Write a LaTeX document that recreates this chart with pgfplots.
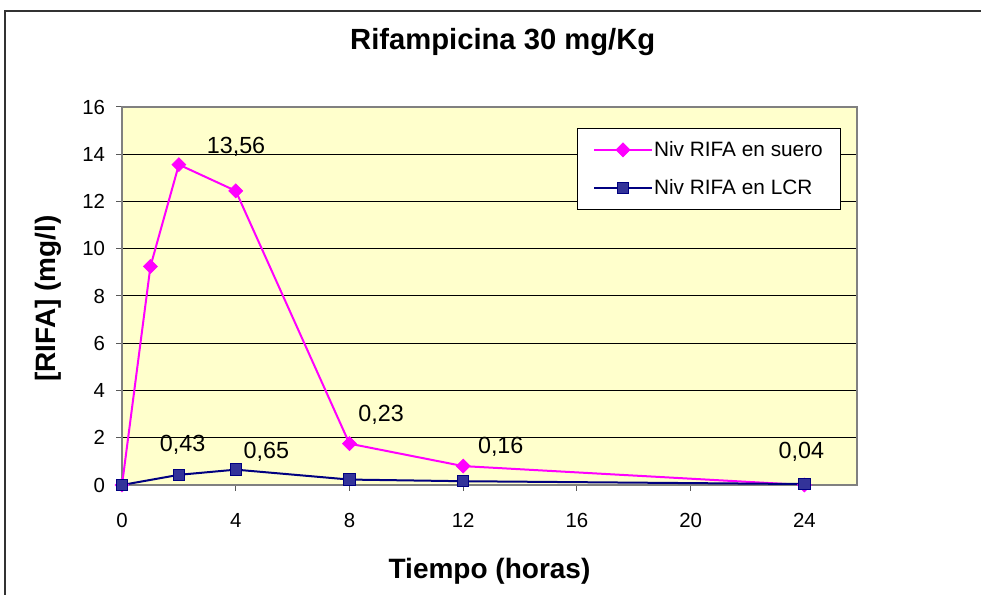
\documentclass[border=0pt]{standalone}
\usepackage{pgfplots}
\pgfplotsset{compat=1.18}
\usepackage{fontspec}
\setmainfont{Liberation Sans}
\definecolor{plotbg}{HTML}{FFFFCC}
\definecolor{serum}{HTML}{FF00FF}
\definecolor{csf}{HTML}{000080}
\definecolor{csffill}{HTML}{333399}
\begin{document}
\begin{tikzpicture}
\path[use as bounding box] (0pt,0pt) rectangle (735.75pt,446.25pt);
\draw[black!80, line width=0.9pt] (3.75pt,0pt) -- (3.75pt,438pt) -- (735.75pt,438pt);
\begin{axis}[
  at={(91.5pt,82.5pt)}, anchor=south west,
  scale only axis, width=551.25pt, height=283.5pt,
  xmin=0, xmax=25.85, ymin=0, ymax=16,
  xtick={0,4,8,12,16,20,24}, ytick={0,2,4,6,8,10,12,14,16},
  xtick pos=bottom, ytick pos=left,
  ymajorgrids, grid style={black, line width=0.75pt},
  axis background/.style={fill=plotbg},
  axis line style={gray, line width=1.5pt},
  tick style={gray!70!black, line width=0.75pt},
  tick align=outside, major tick length=4.5pt,
  /pgf/number format/assume math mode=true,
  tick label style={font=\fontsize{15.3}{18}\selectfont},
  yticklabel style={anchor=east, inner sep=0pt, xshift=-8pt},
  xticklabel style={anchor=north, inner sep=0pt, yshift=-16.5pt},
  title={Rifampicina 30 mg/Kg},
  title style={at={(0.518,1.151)}, anchor=center, font=\bfseries\fontsize{21.9}{26}\selectfont},
  xlabel={Tiempo (horas)},
  xlabel style={at={(0.5,-0.2275)}, anchor=center, font=\bfseries\fontsize{21}{25}\selectfont},
  ylabel={[RIFA] (mg/l)},
  ylabel style={at={(-0.1,0.4934)}, anchor=center, font=\bfseries\fontsize{21}{25}\selectfont},
  legend style={at={(0.619,0.9444)}, anchor=north west, draw=black, line width=0.6pt, fill=white,
    font=\fontsize{15.6}{18}\selectfont, inner xsep=12pt, inner ysep=8.7pt, row sep=13.8pt,
    nodes={inner sep=1pt}},
  legend cell align=left,
  legend image code/.code={%
    \draw[#1, mark repeat=2, mark phase=2] plot coordinates {(0pt,0pt) (21.5pt,0pt) (43pt,0pt)};},
]
\addplot[serum, line width=1.5pt, mark=square*, mark size=3.7pt,
  mark options={rotate=45, fill=serum, draw=serum, line width=0.5pt}]
  coordinates {(0,0) (1,9.25) (2,13.56) (4,12.45) (8,1.75) (12,0.8) (24,0)};
\addlegendentry{Niv RIFA en suero}
\addplot[csf, line width=1.5pt, mark=square*, mark size=4.3pt,
  mark options={fill=csffill, draw=csf, line width=0.75pt}]
  coordinates {(0,0) (2,0.43) (4,0.65) (8,0.23) (12,0.16) (24,0.04)};
\addlegendentry{Niv RIFA en LCR}
\begin{scope}[every node/.style={anchor=base, font=\fontsize{17.5}{20}\selectfont, inner sep=0pt}]
\node at (axis cs:4.01,14.05) {13,56};
\node at (axis cs:2.13,1.40) {0,43};
\node at (axis cs:5.08,1.14) {0,65};
\node at (axis cs:9.11,2.67) {0,23};
\node at (axis cs:13.32,1.35) {0,16};
\node at (axis cs:23.89,1.14) {0,04};
\end{scope}
\end{axis}
\end{tikzpicture}
\end{document}
